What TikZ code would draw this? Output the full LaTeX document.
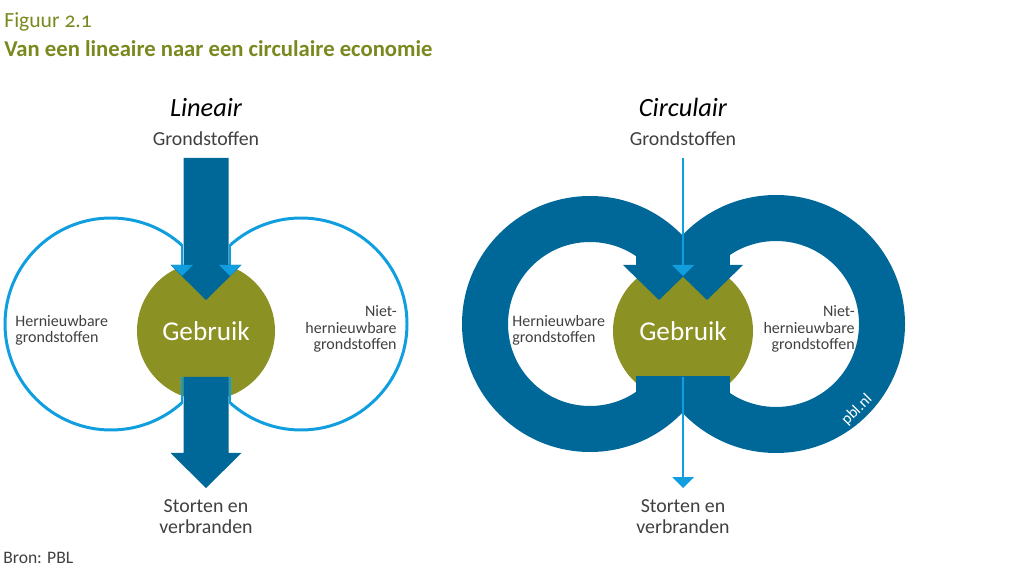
\documentclass[tikz,border=0pt]{standalone}
\usepackage{fontspec}
\setmainfont{Carlito}
\usetikzlibrary{arrows.meta}

\definecolor{pblolive}{RGB}{139,145,34}
\definecolor{pbltitle}{RGB}{122,136,30}
\definecolor{pbldark}{RGB}{0,104,152}
\definecolor{pbllight}{RGB}{16,158,222}
\definecolor{pbltext}{RGB}{64,64,64}

\tikzset{
  lbltxt/.style={text=pbltext, inner sep=0pt, font=\fontsize{11.3}{11.4}\selectfont},
  sidetxt/.style={text=pbltext, inner sep=0pt, font=\fontsize{9.1}{9.4}\selectfont},
  usetxt/.style={text=white, inner sep=0pt, font=\fontsize{15.5}{18}\selectfont},
  headtxt/.style={inner sep=0pt, font=\fontsize{15}{18}\selectfont\itshape},
  thinline/.style={pbllight, line width=1.7pt},
  thinarrow/.style={pbllight, line width=1.3pt},
}

\begin{document}
\begin{tikzpicture}[x=0.02cm, y=-0.02cm]
	\useasboundingbox (0,0) rectangle (1023,573);
	% heading
	\node[anchor=base west, inner sep=0pt, text=pbltitle, font=\fontsize{12.3}{15}\selectfont\addfontfeatures{Numbers=OldStyle}] (fignum) at (4,28) {Figuur 2.1};
	\node[anchor=base west, inner sep=0pt, text=pbltitle, font=\fontsize{12.9}{15}\selectfont\bfseries] (figtitle) at (4,57) {Van een lineaire naar een circulaire economie};
	\node[anchor=base west, lbltxt, font=\fontsize{10}{12}\selectfont] (source) at (3,563) {Bron: PBL};

	% ---- linear ----
	\coordinate (linL) at (111,324);
	\coordinate (linR) at (301,324);
	\node[headtxt, anchor=base] (linhead) at (206,117) {Lineair};
	\node[lbltxt, anchor=base] (linin) at (206,146) {Grondstoffen};
	\fill[pblolive] (206,331) circle (69);
	\node[usetxt, anchor=base] (linuse) at (206,341) {Gebruik};
	% renewable loop (left) and non-renewable loop (right)
	\begin{scope}
		\clip (0,150) rectangle (182,480);
		\draw[thinline] (linL) circle (106);
	\end{scope}
	\begin{scope}
		\clip (230,150) rectangle (480,480);
		\draw[thinline] (linR) circle (106);
	\end{scope}
	\draw[thinline] (182,244) -- (182,266);
	\draw[thinline] (182,377) -- (182,404);
	\draw[thinline] (230,244) -- (230,266);
	\draw[thinline] (230,377) -- (230,404);
	% wide flow in and out
	\fill[pbldark] (183.5,158) -- (228.5,158) -- (228.5,265) -- (241.5,265) -- (206,300) -- (170.5,265) -- (183.5,265) -- cycle;
	\fill[pbldark] (183.5,377) -- (228.5,377) -- (228.5,453) -- (241.5,453) -- (206,488) -- (170.5,453) -- (183.5,453) -- cycle;
	\fill[pbllight] (171,265) -- (193,265) -- (182,276) -- cycle;
	\fill[pbllight] (219,265) -- (241,265) -- (230,276) -- cycle;
	\node[sidetxt, anchor=base west, align=left] (linren) at (15,343) {Hernieuwbare\\grondstoffen};
	\node[sidetxt, anchor=base east, align=right] (linnon) at (397,350) {Niet-\\hernieuwbare\\grondstoffen};
	\node[lbltxt, anchor=base, align=center] (linout) at (206,533) {Storten en\\verbranden};

	% ---- circular ----
	\coordinate (cirL) at (590,324);
	\coordinate (cirR) at (776,324);
	\node[headtxt, anchor=base] (cirhead) at (683,117) {Circulair};
	\node[lbltxt, anchor=base] (cirin) at (683,146) {Grondstoffen};
	\fill[pblolive] (683,331) circle (70);
	\node[usetxt, anchor=base] (ciruse) at (683,341) {Gebruik};
	% thick loops
	\begin{scope}
		\clip (400,150) -- (683,150) -- (683,265) -- (636,265) -- (636,377) -- (683,377) -- (683,480) -- (400,480) -- cycle;
		\fill[pbldark, even odd rule] (cirL) circle (128) (cirL) circle (82);
		\fill[pbldark] (636,235) rectangle (683,266);
	\end{scope}
	\fill[pbldark] (636,376) rectangle (683,400);
	\begin{scope}
		\clip (683,150) -- (960,150) -- (960,480) -- (683,480) -- (683,377) -- (730,377) -- (730,265) -- (683,265) -- cycle;
		\fill[pbldark, even odd rule] (cirR) circle (129) (cirR) circle (83);
		\fill[pbldark] (683,235) rectangle (730,266);
	\end{scope}
	\fill[pbldark] (683,376) rectangle (730,400);
	\fill[pbldark] (623,265) -- (695,265) -- (659,300) -- cycle;
	\fill[pbldark] (671,265) -- (743,265) -- (707,300) -- cycle;
	% thin flow in and out
	\coordinate (cirtop) at (683,158);
	\coordinate (cirheadA) at (683,266);
	\coordinate (cirbot) at (683,377);
	\coordinate (cirheadB) at (683,478);
	\draw[thinarrow] (cirtop) -- (cirheadA);
	\fill[pbllight] (672,265) -- (694,265) -- (683,276) -- cycle;
	\draw[thinarrow] (cirbot) -- (cirheadB);
	\fill[pbllight] (672,477) -- (694,477) -- (683,488) -- cycle;
	\node[sidetxt, anchor=base west, align=left] (cirren) at (512,343) {Hernieuwbare\\grondstoffen};
	\node[sidetxt, anchor=base east, align=right] (cirnon) at (855,350) {Niet-\\hernieuwbare\\grondstoffen};
	\node[lbltxt, anchor=base, align=center] (cirout) at (683,533) {Storten en\\verbranden};
	\node[text=white, inner sep=0pt, rotate=45, font=\fontsize{9}{10}\selectfont] (pbl) at (857,410) {pbl.nl};
\end{tikzpicture}
\end{document}
